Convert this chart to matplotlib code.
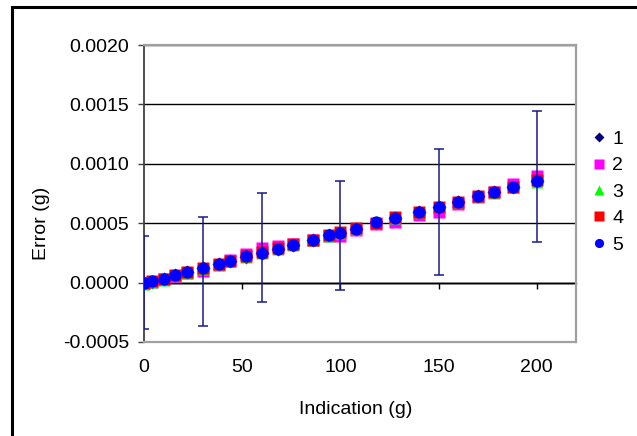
from matplotlib import pyplot as plt
from matplotlib.patches import Rectangle
from matplotlib.ticker import FormatStrFormatter, MultipleLocator

plt.rcParams['font.family'] = ['Liberation Sans', 'DejaVu Sans']

# indication (g)
indication = [0, 4, 10, 16, 22, 30, 38, 44, 52, 60, 68, 76, 86, 94, 100,
              108, 118, 128, 140, 150, 160, 170, 178, 188, 200]

# error (g) for each of the five series
err_1 = [-0.000005, 0.000009, 0.000030, 0.000063, 0.000086, 0.000120, 0.000157, 0.000183, 0.000219,
         0.000249, 0.000285, 0.000319, 0.000361, 0.000397, 0.000421, 0.000455, 0.000505, 0.000545,
         0.000595, 0.000637, 0.000679, 0.000728, 0.000759, 0.000802, 0.000852]
err_2 = [0.000000, 0.000008, 0.000030, 0.000058, 0.000080, 0.000095, 0.000150, 0.000190, 0.000240,
         0.000294, 0.000304, 0.000323, 0.000358, 0.000392, 0.000395, 0.000445, 0.000490, 0.000512,
         0.000565, 0.000593, 0.000664, 0.000720, 0.000760, 0.000830, 0.000894]
err_3 = [-0.000012, 0.000003, 0.000026, 0.000060, 0.000084, 0.000118, 0.000155, 0.000182, 0.000218,
         0.000247, 0.000283, 0.000316, 0.000360, 0.000396, 0.000420, 0.000454, 0.000504, 0.000543,
         0.000594, 0.000636, 0.000678, 0.000727, 0.000758, 0.000801, 0.000851]
err_4 = [-0.000003, 0.000010, 0.000033, 0.000068, 0.000092, 0.000125, 0.000160, 0.000186, 0.000225,
         0.000255, 0.000288, 0.000322, 0.000362, 0.000400, 0.000425, 0.000458, 0.000505, 0.000550,
         0.000598, 0.000640, 0.000682, 0.000730, 0.000762, 0.000808, 0.000860]
err_5 = [0.000000, 0.000011, 0.000031, 0.000065, 0.000087, 0.000121, 0.000158, 0.000184, 0.000220,
         0.000250, 0.000286, 0.000320, 0.000362, 0.000398, 0.000421, 0.000455, 0.000506, 0.000545,
         0.000596, 0.000638, 0.000680, 0.000729, 0.000760, 0.000803, 0.000853]

# uncertainty bars (on series 2)
unc_x = [0, 30, 60, 100, 150, 200]
unc_val = [0.00039, 0.00046, 0.00046, 0.00046, 0.00053, 0.00055]

unc_y = [err_2[indication.index(v)] for v in unc_x]

fig = plt.figure(figsize=(6.37, 4.36), dpi=100)
ax = fig.add_axes([144 / 637, 1 - 342 / 436, 432 / 637, 297 / 436])

fig.patches.append(Rectangle((12 / 637, -0.2), 1.5, 1 - 7 / 436 + 0.2, transform=fig.transFigure,
                             fill=False, edgecolor='black', linewidth=2.2))

ms = 8.8
ax.plot(indication, err_1, 'D', color='#000080', ms=ms * 0.8, mec='none', label='1', zorder=3)
ax.plot(indication, err_2, 's', color='#FF00FF', ms=ms, mec='none', label='2', zorder=3)
ax.plot(indication, err_3, '^', color='#00FF00', ms=ms, mec='none', label='3', zorder=3)
ax.plot(indication, err_4, 's', color='#FF0000', ms=ms, mec='none', label='4', zorder=3)
ax.errorbar(unc_x, unc_y, yerr=unc_val, fmt='none', ecolor='#1a1a8c', elinewidth=1.1,
            capsize=3.5, capthick=1.1, zorder=4)
ax.plot(indication, err_5, 'o', color='#0000FF', ms=ms, mec='none', label='5', zorder=5)

ax.set_xlim(0, 220)
ax.set_ylim(-0.0005, 0.0020)
ax.yaxis.set_major_locator(MultipleLocator(0.0005))
ax.yaxis.set_major_formatter(FormatStrFormatter('%.4f'))
ax.set_xticks([0, 50, 100, 150, 200])
ax.yaxis.grid(True, color='black', linewidth=1)
ax.set_axisbelow(True)

for s in ['top', 'right', 'bottom']:
    ax.spines[s].set_color('#a0a0a0')
    ax.spines[s].set_linewidth(1.6)
ax.spines['left'].set_color('#404040')
ax.spines['left'].set_linewidth(1.3)

ax.tick_params(axis='y', direction='out', length=4.5, width=1, color='#404040',
               labelsize=14, pad=6)
ax.tick_params(axis='x', length=0, labelsize=14, pad=12)

# x axis line crossing at zero
ax.axhline(0, color='black', linewidth=1, zorder=1)
sec = ax.secondary_xaxis(0.2)
sec.set_xticks([0, 50, 100, 150, 200])
sec.tick_params(direction='out', length=4, width=1, color='black', labelbottom=False)
sec.spines['bottom'].set_color('black')
sec.spines['bottom'].set_linewidth(1)

ax.set_xlabel('Indication (g)', fontsize=14)
ax.xaxis.set_label_coords(0.49, -0.20)
ax.set_ylabel('Error (g)', fontsize=14)
ax.yaxis.set_label_coords(-0.218, 0.40)

ax.legend(loc='center left', bbox_to_anchor=(589 / 637, 1 - 192 / 436), bbox_transform=fig.transFigure,
          frameon=False, fontsize=14, markerscale=0.75, handlelength=1.0, handletextpad=0.2,
          labelspacing=0.45, borderpad=0, borderaxespad=0)

plt.savefig('out.png', dpi=100)
plt.close()
